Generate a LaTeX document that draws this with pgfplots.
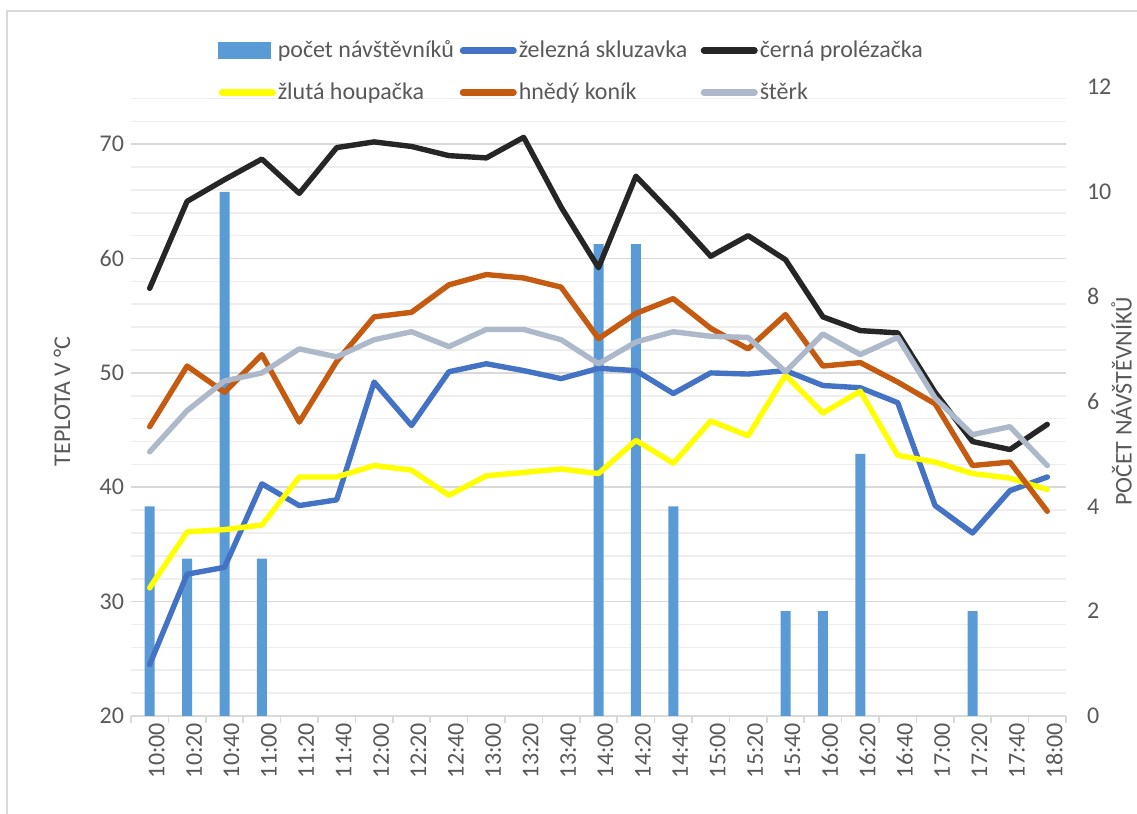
\documentclass[border=0pt]{standalone}
\usepackage{fontspec}
\setmainfont{Carlito}
\usepackage{pgfplots}
\pgfplotsset{compat=1.18}

\definecolor{barblue}{HTML}{5B9BD5}
\definecolor{ironblue}{HTML}{4472C4}
\definecolor{blackish}{HTML}{262626}
\definecolor{yellowl}{HTML}{FFFF00}
\definecolor{brownl}{HTML}{C55A11}
\definecolor{grayl}{HTML}{ADB9CA}
\definecolor{gridmaj}{HTML}{D9D9D9}
\definecolor{gridmin}{HTML}{EEEEEE}
\definecolor{labgray}{HTML}{595959}

\newcommand{\lbl}{\fontsize{12}{14}\selectfont}

\pgfplotsset{
  common/.style={
    at={(65.5pt,49pt)}, anchor=south west,
    scale only axis, width=467.5pt, height=314.5pt,
    xmin=-0.5, xmax=24.5,
    tick label style={font=\lbl, color=labgray},
    /pgf/number format/assume math mode=true,
  },
  serie/.style={line width=2.7pt, line join=round, line cap=round},
}

\begin{document}
\begin{tikzpicture}
\useasboundingbox (0,0) rectangle (568.5pt,407pt);
\draw[gridmaj, line width=0.8pt] (3.5pt,-2pt) -- (3.5pt,401.5pt) -- (572pt,401.5pt);

% grid, time axis and temperature ticks
\begin{axis}[common,
  ymin=20, ymax=75,
  ytick={20,30,...,70}, minor ytick={22,24,...,74},
  ymajorgrids, yminorgrids,
  major grid style={color=gridmaj, line width=0.8pt},
  minor grid style={color=gridmin, line width=0.8pt},
  xtick={0,...,24},
  xticklabels={10:00,10:20,10:40,11:00,11:20,11:40,12:00,12:20,12:40,13:00,13:20,13:40,14:00,14:20,14:40,15:00,15:20,15:40,16:00,16:20,16:40,17:00,17:20,17:40,18:00},
  minor xtick={-0.5,0.5,...,24.5},
  axis x line*=bottom, axis y line*=left,
  y axis line style={draw=none},
  x axis line style={color=gridmaj, line width=0.8pt},
  tick align=outside,
  major tick length=0pt, minor tick length=3.5pt,
  minor x tick style={color=gridmaj, line width=0.8pt},
  minor y tick style={draw=none},
  xticklabel style={rotate=90, anchor=east, yshift=-3.5pt},
  ylabel={TEPLOTA V °C},
  every axis y label/.style={at={(axis description cs:-0.0738,0.5)}, rotate=90, anchor=center, font=\lbl, color=labgray},
]
\end{axis}

% visitors (right axis)
\begin{axis}[common,
  ymin=0, ymax=12, ytick={0,2,...,12},
  axis y line*=right, axis x line=none,
  y axis line style={draw=none}, major tick length=0pt,
  yticklabel style={anchor=west, xshift=7pt},
  ybar, bar width=5pt,
  ylabel={POČET NÁVŠTĚVNÍKŮ},
  every axis y label/.style={at={(axis description cs:1.0595,0.5)}, rotate=90, anchor=center, font=\lbl, color=labgray},
]
\addplot[fill=barblue, draw=none] coordinates {
  (0,4) (1,3) (2,10) (3,3) (12,9) (13,9) (14,4) (17,2) (18,2) (19,5) (22,2)};
\end{axis}

% temperatures
\begin{axis}[common,
  ymin=20, ymax=75, hide axis,
  legend columns=3,
  legend style={at={(0.093,1.0247)}, anchor=west, draw=none, fill=none,
    font=\lbl, text=labgray, row sep=9pt, column sep=0pt, inner sep=0pt,
    nodes={inner sep=1pt}},
  legend cell align=left,
  legend image code/.code={\draw[line width=3.2pt, line cap=round] (1.6pt,0pt) -- (26.9pt,0pt);},
]
\addlegendimage{legend image code/.code={\fill[barblue] (0pt,-4pt) rectangle (26pt,4pt);}}
\addlegendentry{\makebox[90pt][l]{počet návštěvníků}}

\addplot[serie, ironblue] coordinates {
  (0,24.5) (1,32.4) (2,33.0) (3,40.3) (4,38.4) (5,38.9) (6,49.2) (7,45.4) (8,50.1) (9,50.8)
  (10,50.2) (11,49.5) (12,50.4) (13,50.2) (14,48.2) (15,50.0) (16,49.9) (17,50.2) (18,48.9)
  (19,48.7) (20,47.4) (21,38.4) (22,36.0) (23,39.7) (24,40.9)};
\addlegendentry{\makebox[90pt][l]{železná skluzavka}}

\addplot[serie, blackish] coordinates {
  (0,57.4) (1,65.0) (2,66.9) (3,68.7) (4,65.7) (5,69.7) (6,70.2) (7,69.8) (8,69.0) (9,68.8)
  (10,70.6) (11,64.5) (12,59.2) (13,67.2) (14,63.8) (15,60.2) (16,62.0) (17,59.9) (18,54.9)
  (19,53.7) (20,53.5) (21,48.3) (22,44.0) (23,43.3) (24,45.5)};
\addlegendentry{\makebox[90pt][l]{černá prolézačka}}

\addplot[serie, yellowl] coordinates {
  (0,31.2) (1,36.1) (2,36.3) (3,36.7) (4,40.9) (5,40.9) (6,41.9) (7,41.5) (8,39.3) (9,41.0)
  (10,41.3) (11,41.6) (12,41.2) (13,44.1) (14,42.1) (15,45.8) (16,44.5) (17,49.8) (18,46.5)
  (19,48.4) (20,42.8) (21,42.2) (22,41.2) (23,40.8) (24,39.8)};
\addlegendentry{\makebox[90pt][l]{žlutá houpačka}}

\addplot[serie, brownl] coordinates {
  (0,45.3) (1,50.6) (2,48.3) (3,51.6) (4,45.7) (5,51.0) (6,54.9) (7,55.3) (8,57.7) (9,58.6)
  (10,58.3) (11,57.5) (12,53.0) (13,55.2) (14,56.5) (15,53.9) (16,52.1) (17,55.1) (18,50.6)
  (19,50.9) (20,49.2) (21,47.3) (22,41.9) (23,42.2) (24,37.9)};
\addlegendentry{\makebox[90pt][l]{hnědý koník}}

\addplot[serie, grayl] coordinates {
  (0,43.1) (1,46.7) (2,49.3) (3,50.0) (4,52.1) (5,51.4) (6,52.9) (7,53.6) (8,52.3) (9,53.8)
  (10,53.8) (11,52.9) (12,50.8) (13,52.7) (14,53.6) (15,53.2) (16,53.1) (17,50.1) (18,53.4)
  (19,51.6) (20,53.1) (21,47.8) (22,44.6) (23,45.3) (24,41.9)};
\addlegendentry{\makebox[90pt][l]{štěrk}}
\end{axis}
\end{tikzpicture}
\end{document}
